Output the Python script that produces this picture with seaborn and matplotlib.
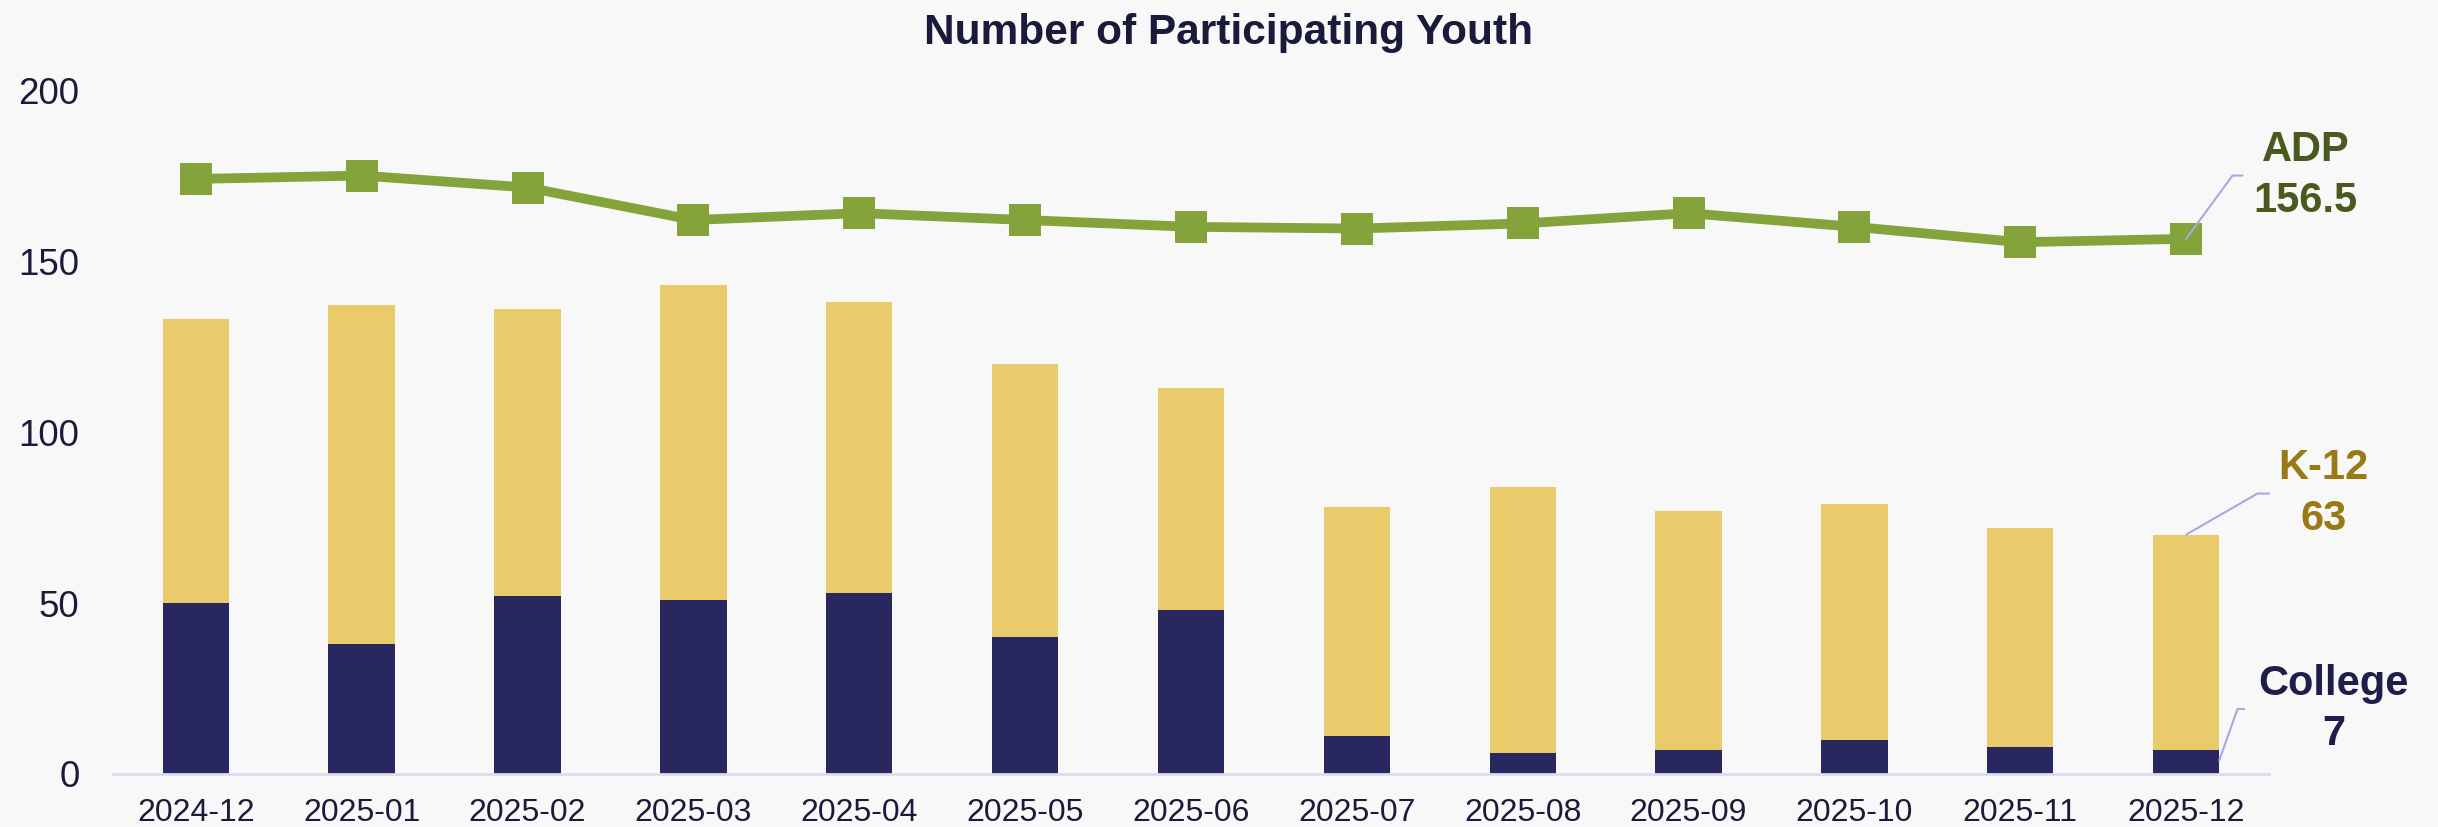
import numpy as np
import pandas as pd
import matplotlib
matplotlib.use('Agg')
import matplotlib.pyplot as plt
import seaborn as sns

# Dados do gráfico
meses = ['2024-12', '2025-01', '2025-02', '2025-03', '2025-04', '2025-05', '2025-06',
         '2025-07', '2025-08', '2025-09', '2025-10', '2025-11', '2025-12']
college = [50, 38, 52, 51, 53, 40, 48, 11, 6, 7, 10, 8, 7]
k12 = [83, 99, 84, 92, 85, 80, 65, 67, 78, 70, 69, 64, 63]
adp = [174, 175, 171.5, 162, 164, 162, 160, 159.5, 161, 164, 160, 155.5, 156.5]

df = pd.DataFrame({'mes': meses, 'college': college, 'k12': k12, 'adp': adp})
df['total'] = df['college'] + df['k12']
df['pos'] = np.arange(len(df))

cor_college = '#29275f'
cor_k12 = '#e9cb6b'
cor_adp = '#84a33b'
fundo = '#f8f8f8'

sns.set_theme(style='white')
plt.rcParams['font.family'] = ['Liberation Sans', 'DejaVu Sans']

fig = plt.figure(figsize=(24.38, 8.27), dpi=100, facecolor=fundo)
ax = fig.add_axes([0.0463, 0.0641, 0.8844, 0.827])
ax.set_facecolor(fundo)

# Barras empilhadas: total (K-12) atrás, college na frente
sns.barplot(data=df, x='mes', y='total', color=cor_k12, width=0.4, saturation=1,
            order=meses, linewidth=0, ax=ax)
sns.barplot(data=df, x='mes', y='college', color=cor_college, width=0.4, saturation=1,
            order=meses, linewidth=0, ax=ax)

# Linha ADP
sns.lineplot(data=df, x='pos', y='adp', color=cor_adp, linewidth=7, marker='s',
             markersize=23, markeredgewidth=0, ax=ax, clip_on=False)

ax.set_xlim(-0.5, 12.5)
ax.set_ylim(0, 200)
ax.set_yticks([0, 50, 100, 150, 200])
ax.set_xlabel('')
ax.set_ylabel('')
ax.tick_params(axis='y', labelsize=26.5, labelcolor='#1a1a3a', length=0, pad=24)
ax.tick_params(axis='x', labelsize=23, labelcolor='#1a1a3a', length=0, pad=17)
for s in ['top', 'right', 'left']:
    ax.spines[s].set_visible(False)
ax.spines['bottom'].set_color('#dcdcf0')
ax.spines['bottom'].set_linewidth(2)
ax.grid(False)

fig.text(0.504, 0.96, 'Number of Participating Youth', ha='center', va='center',
         fontsize=30.5, fontweight='bold', color='#1a1a3a')

# Rótulos à direita com linhas guia
ult = len(df) - 1
lin = '#a8a8e0'
total_ult = df['total'].iloc[-1]

ax.plot([ult, ult + 0.28, ult + 0.34], [adp[-1], 175, 175], color=lin, lw=1.5, clip_on=False)
ax.text(ult + 0.72, 175, 'ADP\n' + str(adp[-1]), ha='center', va='center', fontsize=30,
        fontweight='bold', color='#4a5a1e', linespacing=1.34)

ax.plot([ult, ult + 0.43, ult + 0.5], [total_ult, 82, 82], color=lin, lw=1.5, clip_on=False)
ax.text(ult + 0.83, 82, 'K-12\n' + str(k12[-1]), ha='center', va='center', fontsize=30,
        fontweight='bold', color='#9a7a14', linespacing=1.34)

ax.plot([ult + 0.2, ult + 0.31, ult + 0.35], [college[-1] - 3, 19, 19], color=lin, lw=1.5,
        clip_on=False)
ax.text(ult + 0.89, 19, 'College\n' + str(college[-1]), ha='center', va='center', fontsize=30,
        fontweight='bold', color='#1e1e4a', linespacing=1.34)

plt.savefig('out.png', dpi=100, facecolor=fundo)
